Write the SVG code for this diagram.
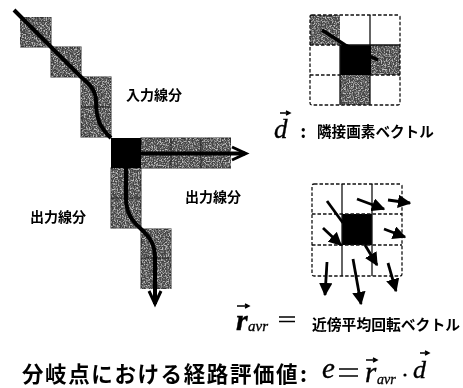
<svg xmlns="http://www.w3.org/2000/svg" width="463" height="388" viewBox="0 0 463 388">
<defs>
<filter id="speck" x="0" y="0" width="100%" height="100%" color-interpolation-filters="sRGB">
<feTurbulence type="fractalNoise" baseFrequency="0.75" numOctaves="2" seed="4" result="n"/>
<feColorMatrix in="n" type="matrix" values="0 0 0 0 0.74  0 0 0 0 0.74  0 0 0 0 0.74  3.7 0 0 0 -1.6" result="f"/>
<feComposite in="f" in2="SourceAlpha" operator="in" result="c"/>
<feMerge><feMergeNode in="SourceGraphic"/><feMergeNode in="c"/></feMerge>
</filter>
<filter id="soft" x="-5%" y="-5%" width="110%" height="110%"><feGaussianBlur stdDeviation="0.45"/></filter>
<marker id="head" viewBox="0 0 10 10" refX="9" refY="5" markerWidth="4.8" markerHeight="4.8" markerUnits="strokeWidth" orient="auto"><path d="M0,0L10,5L0,10z" fill="#000"/></marker>
</defs>
<style>
.cell{fill:#444;stroke:#222;stroke-width:1}
.sep{stroke:#222;stroke-width:1;fill:none}
.path{fill:none;stroke:#000;stroke-width:4}
.tip{fill:#fff;stroke:#000;stroke-width:3;stroke-linejoin:miter}
.grid{fill:none;stroke:#111;stroke-width:1.3;stroke-dasharray:3.5 2}
.solid{stroke:#111;stroke-width:1.3;fill:none}
.vec{stroke:#000;stroke-width:2.8;fill:none;marker-end:url(#head)}
.plain{stroke:#000;stroke-width:2.8;fill:none}
.over{stroke:#000;stroke-width:1.4;fill:none}
.ja{font-family:"Noto Sans CJK JP","Liberation Sans",sans-serif;font-weight:700;fill:#000}
.m{font-family:"Liberation Serif",serif;font-style:italic;fill:#000;stroke:#000;stroke-width:0.35}
.up{font-family:"Liberation Serif",serif;fill:#000}
</style>
<g filter="url(#soft)">
<g id="path-cells" filter="url(#speck)">
<rect class="cell" x="20" y="17" width="31" height="30"/>
<rect class="cell" x="51" y="47" width="30" height="30"/>
<rect class="cell" x="81" y="77" width="30" height="60"/>
<rect class="cell" x="141" y="138" width="90" height="30"/>
<rect class="cell" x="111" y="168" width="30" height="60"/>
<rect class="cell" x="141" y="229" width="30" height="60"/>
</g>
<g id="path-separators">
<path class="sep" d="M81,107H111M171,138V168M201,138V168M111,198H141M141,258H171"/>
</g>
<rect id="branch-pixel" x="111" y="138" width="30" height="30" fill="#000"/>
<g id="connectors">
<path class="path" d="M14,10L51,47L81,77C92,86 96,92 96,102C96,118 100,128 111,138"/>
<path class="tip" d="M232,147L246,153.500L232,160"/>
<path class="path" d="M125,153.500H245" stroke-width="5"/>
<path class="tip" d="M149,291L155,304L161,291"/>
<path class="path" d="M126,168V198C126,212 131,220 141,229C151,238 155,246 155,258V304"/>
</g>
<g id="label-input"><text class="ja" x="126" y="100" font-size="14">入力線分</text></g>
<g id="label-output-right"><text class="ja" x="185" y="202" font-size="14">出力線分</text></g>
<g id="label-output-left"><text class="ja" x="30" y="222" font-size="14">出力線分</text></g>

<g id="neighbour-grid">
<rect x="310" y="15" width="30" height="30" fill="#444" filter="url(#speck)"/>
<rect x="370" y="45" width="30" height="30" fill="#444" filter="url(#speck)"/>
<rect x="340" y="75" width="30" height="30" fill="#444" filter="url(#speck)"/>
<rect x="340" y="45" width="31" height="30" fill="#000"/>
<rect class="grid" x="310" y="15" width="90" height="90" rx="2"/>
<path class="solid" d="M370,15V45M340,45H400M340,45V105M370,75V105"/>
<path class="grid" d="M310,45H340M310,75H340M370,75H400"/>
<path d="M322,30L345,45L378,60" stroke="#000" stroke-width="3.5" fill="none"/>
</g>
<g id="label-d">
<text class="m" x="274" y="138" font-size="27">d</text>
<path class="over" d="M280,113H289M286,111L290,113L286,115"/>
<text class="up" x="300" y="138" font-size="20" font-weight="700">:</text>
<text class="ja" x="317" y="137" font-size="14.6">隣接画素ベクトル</text>
</g>

<g id="rotation-grid">
<rect x="342" y="214" width="30" height="31" fill="#000"/>
<rect class="grid" x="312" y="184" width="90" height="92" rx="2"/>
<path class="solid" d="M342,184V276M372,184V276"/>
<path class="grid" d="M312,214H402M312,245H402"/>
<path class="plain" d="M327,201L343,223"/>
<path class="vec" d="M357,199L384,209"/>
<path class="vec" d="M388,200L410,203"/>
<path class="vec" d="M323,228L341,245"/>
<path class="vec" d="M384,229L405,237"/>
<path class="vec" d="M365,245L377,265"/>
<path class="vec" d="M327,262L325,295"/>
<path class="vec" d="M353,259L361,304"/>
<path class="vec" d="M388,263L396,291"/>
</g>
<g id="label-ravr">
<text class="m" x="236" y="330" font-size="30" font-weight="700">r</text>
<path class="over" d="M237,306H248M245,304L249,306L245,308"/>
<text class="m" x="248" y="331" font-size="15">avr</text>
<path d="M279,317H295M279,321.500H295" stroke="#000" stroke-width="1.6"/>
<text class="ja" x="312" y="330" font-size="14.800">近傍平均回転ベクトル</text>
</g>
<g id="formula">
<text class="ja" x="22" y="381.500" font-size="21.500" letter-spacing="1.600">分岐点における経路評価値</text>
<text class="ja" x="300" y="381.500" font-size="21.500">:</text>
<text class="m" x="322" y="378" font-size="29">e</text>
<path d="M339,369H358M339,376H358" stroke="#000" stroke-width="1.700"/>
<text class="m" x="365" y="382" font-size="29">r</text>
<path class="over" d="M366,360H376M373,358L377,360L373,362"/>
<text class="m" x="377" y="384" font-size="14">avr</text>
<circle cx="405" cy="375" r="1.600" fill="#000"/>
<text class="m" x="413" y="378" font-size="26">d</text>
<path class="over" d="M420,353H428M425,351L429,353L425,355"/>
</g>
</g>
</svg>
